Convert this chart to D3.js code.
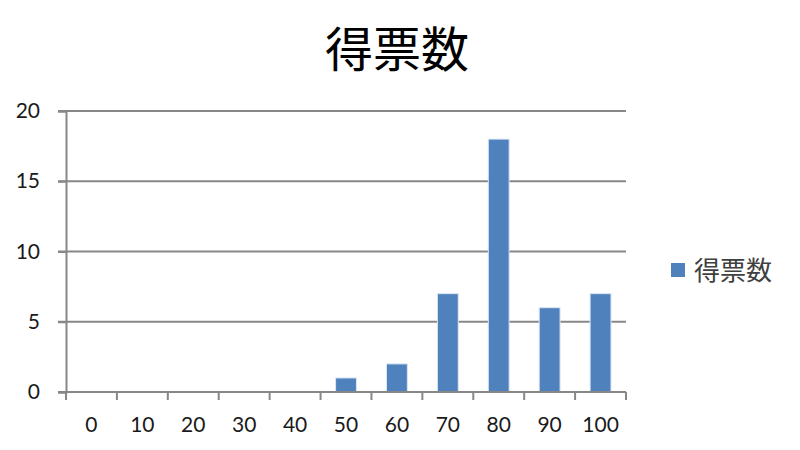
<!DOCTYPE html>
<html><head><meta charset="utf-8">
<script src="https://cdn.jsdelivr.net/npm/d3@7"></script>
<style>body{margin:0;background:#fff}</style>
</head><body>
<svg id="c" width="800" height="450"></svg>
<script>
const title = "得票数";
const seriesName = "得票数";
const categories = ["0","10","20","30","40","50","60","70","80","90","100"];
const values = [0,0,0,0,0,1,2,7,18,6,7];
const yTicks = [0,5,10,15,20];

const svg = d3.select("#c");
const m = {l:66, r:174, t:111, b:58};
const W = 800, H = 450;
const x = d3.scaleBand().domain(categories).range([m.l, W - m.r]).paddingInner(0.59).paddingOuter(0.295);
const xb = d3.scaleBand().domain(categories).range([m.l, W - m.r]);
const y = d3.scaleLinear().domain([0,20]).range([H - m.b, m.t]);
const grid = "#878787";
const font = "Lato, 'Open Sans', sans-serif";

svg.append("text").attr("x", 397).attr("y", 67).attr("text-anchor","middle")
  .attr("font-family","'Noto Sans CJK JP'").attr("font-size",48).attr("font-weight",400).attr("fill","#000").text(title);

// gridlines
svg.append("g").selectAll("line").data(yTicks.filter(d=>d>0)).join("line")
  .attr("x1", m.l - 8).attr("x2", W - m.r).attr("y1", d=>y(d)).attr("y2", d=>y(d))
  .attr("stroke", grid).attr("stroke-width", 2);

// y axis
const ya = svg.append("g").attr("transform",`translate(${m.l},0)`)
  .call(d3.axisLeft(y).tickValues(yTicks).tickSize(8).tickPadding(18));
ya.select(".domain").attr("stroke", grid).attr("stroke-width",2);
ya.selectAll(".tick line").attr("stroke", grid).attr("stroke-width",2);
ya.selectAll("text").attr("font-family", font).attr("font-size",21).attr("fill","#1a1a1a");

// bars
svg.append("g").selectAll("rect").data(values.map((v,i)=>({c:categories[i],v}))).join("rect")
  .filter(d=>d.v>0)
  .attr("x", d=>x(d.c)).attr("width", x.bandwidth())
  .attr("y", d=>y(d.v)).attr("height", d=>y(0)-y(d.v))
  .attr("fill","#4f81bd").attr("stroke","#dbe6f3").attr("stroke-width",1);

// x axis
const xg = svg.append("g").attr("transform",`translate(0,${H - m.b})`);
xg.append("line").attr("x1", m.l - 8).attr("x2", W - m.r).attr("stroke", grid).attr("stroke-width",2);
const bounds = categories.map(c=>xb(c)).concat([W - m.r]);
xg.selectAll("line.t").data(bounds).join("line").attr("class","t")
  .attr("x1", d=>d).attr("x2", d=>d).attr("y1",0).attr("y2",8).attr("stroke", grid).attr("stroke-width",2);
xg.selectAll("text").data(categories).join("text")
  .attr("x", d=>xb(d)+xb.bandwidth()/2).attr("y", 40).attr("text-anchor","middle")
  .attr("font-family", font).attr("font-size",21).attr("fill","#1a1a1a").text(d=>d);

// legend
svg.append("rect").attr("x",671).attr("y",263).attr("width",14).attr("height",14).attr("fill","#4f81bd");
svg.append("text").attr("x",694).attr("y",280).attr("font-family","'Noto Sans CJK JP'").attr("font-size",26)
  .attr("fill","#404040").text(seriesName);
</script>
</body></html>
